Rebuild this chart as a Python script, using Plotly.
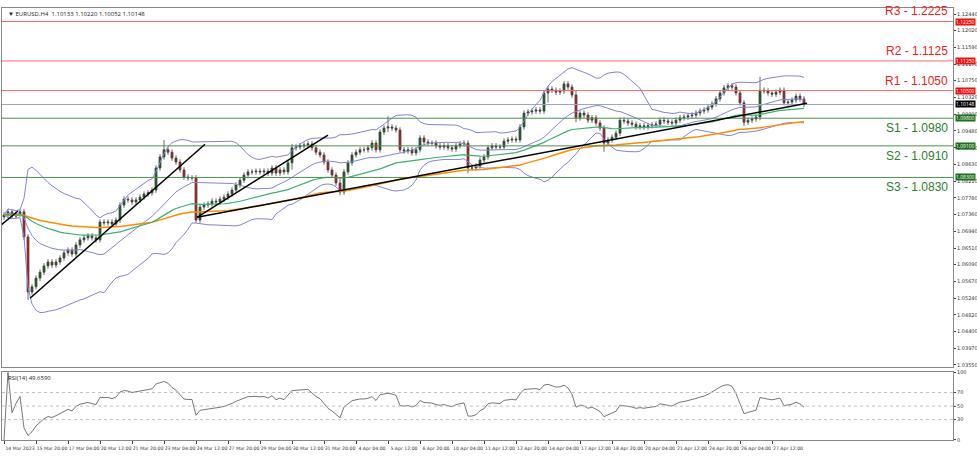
import numpy as np
import pandas as pd
import plotly.graph_objects as go

closes = [1.0735,1.0743,1.0732,1.0737,1.0743,1.0679,1.0540,1.0553,1.0575,1.0590,
1.0606,1.0616,1.0608,1.0616,1.0626,1.0639,1.0646,1.0636,1.0659,1.0672,
1.0677,1.0682,1.0677,1.0672,1.0717,1.0715,1.0717,1.0712,1.0722,1.0760,
1.0775,1.0773,1.0768,1.0773,1.0780,1.0788,1.0791,1.0798,1.0854,1.0882,
1.0900,1.0894,1.0879,1.0869,1.0849,1.0831,1.0829,1.0829,1.0722,1.0755,
1.0760,1.0763,1.0770,1.0768,1.0775,1.0780,1.0788,1.0798,1.0811,1.0823,
1.0836,1.0844,1.0844,1.0846,1.0844,1.0846,1.0841,1.0854,1.0841,1.0849,
1.0844,1.0867,1.0905,1.0907,1.0910,1.0912,1.0915,1.0905,1.0894,1.0887,
1.0869,1.0849,1.0836,1.0816,1.0793,1.0844,1.0867,1.0887,1.0894,1.0900,
1.0900,1.0905,1.0917,1.0900,1.0945,1.0955,1.0958,1.0955,1.0950,1.0900,
1.0897,1.0900,1.0892,1.0900,1.0930,1.0920,1.0917,1.0917,1.0910,1.0907,
1.0910,1.0905,1.0902,1.0910,1.0915,1.0917,1.0854,1.0854,1.0859,1.0874,
1.0882,1.0905,1.0910,1.0907,1.0907,1.0922,1.0925,1.0927,1.0925,1.0958,
1.0993,1.0996,1.0998,1.1001,1.0998,1.1044,1.1054,1.1051,1.1046,1.1049,
1.1067,1.1059,1.1039,1.0981,1.0993,1.0988,1.0975,1.0981,1.0968,1.0955,
1.0917,1.0925,1.0932,1.0942,1.0975,1.0973,1.0968,1.0965,1.0958,1.0961,
1.0958,1.0961,1.0963,1.0965,1.0975,1.0973,1.0970,1.0968,1.0975,1.0981,
1.0983,1.0986,1.0988,1.0993,1.0998,1.1001,1.1008,1.1016,1.1029,1.1044,
1.1057,1.1062,1.1059,1.1044,1.1019,1.0970,1.0975,1.0978,1.0983,1.1051,
1.1049,1.1044,1.1041,1.1046,1.1051,1.1019,1.1021,1.1026,1.1036,1.1029,
1.10148]
first_open = 1.0730
wick_extra = {6: (1.0560, 1.0520), 40: (1.0925, 1.0880), 72: (1.0915, 1.0850),
              84: (1.0830, 1.0785), 96: (1.0985, 1.0945), 116: (1.0920, 1.0840),
              136: (1.1062, 1.1020), 143: (1.1050, 1.0970), 150: (1.0950, 1.0895),
              185: (1.1025, 1.0960), 189: (1.1085, 1.0975)}

tick_labels = ["14 Mar 2023","15 Mar 20:00","17 Mar 04:00","20 Mar 12:00","21 Mar 20:00",
"23 Mar 04:00","24 Mar 12:00","27 Mar 20:00","29 Mar 04:00","30 Mar 12:00","31 Mar 20:00",
"4 Apr 04:00","5 Apr 12:00","6 Apr 20:00","10 Apr 04:00","11 Apr 12:00","12 Apr 20:00",
"14 Apr 04:00","17 Apr 12:00","18 Apr 20:00","20 Apr 04:00","21 Apr 12:00","24 Apr 20:00",
"26 Apr 04:00","27 Apr 12:00"]
price_ticks = [1.12440,1.12020,1.11590,1.11170,1.10750,1.10320,1.09900,1.09480,1.09050,
1.08630,1.08210,1.07780,1.07360,1.06940,1.06510,1.06090,1.05670,1.05240,1.04820,
1.04400,1.03970,1.03550]
levels = [("R3 - 1.2225", 1.1225, "1.12250"), ("R2 - 1.1125", 1.1125, "1.11250"),
          ("R1 - 1.1050", 1.1050, "1.10500"), ("S1 - 1.0980", 1.0980, "1.09800"),
          ("S2 - 1.0910", 1.0910, "1.09100"), ("S3 - 1.0830", 1.0830, "1.08300")]
last_price = 1.10148
trendlines = [((-1.0, 1.0707), (3.5, 1.0745)),
              ((6.5, 1.0524), (50.25, 1.0914)),
              ((48.25, 1.0729), (81.0, 1.0937)),
              ((48.25, 1.0729), (200.75, 1.1018))]

n = len(closes)
x = np.arange(n)
c = np.array(closes)
o = np.concatenate([[first_open], c[:-1]])
h = np.maximum(o, c) + 0.0007
l = np.minimum(o, c) - 0.0007
for k, (hh, ll) in wick_extra.items():
    h[k] = max(h[k], hh); l[k] = min(l[k], ll)

s = pd.Series(c)
mid = s.rolling(20, min_periods=1).mean()
sd = s.rolling(20, min_periods=2).std().fillna(0)
ema50 = s.ewm(span=50, adjust=False).mean()
ema100 = s.ewm(span=100, adjust=False).mean()
d = s.diff().fillna(0)
up = d.clip(lower=0).ewm(alpha=1/14, adjust=False).mean()
dn = (-d.clip(upper=0)).ewm(alpha=1/14, adjust=False).mean()
rsi = 100 - 100 / (1 + up / dn.replace(0, 1e-9))

fig = go.Figure()
band = dict(color="#8484d6", width=1)
for yy in [mid + 2 * sd, mid - 2 * sd, mid]:
    fig.add_trace(go.Scatter(x=x, y=yy, mode="lines", line=band, yaxis="y", hoverinfo="skip"))
fig.add_trace(go.Scatter(x=x, y=ema100, mode="lines", line=dict(color="#ff8c00", width=1.5)))
fig.add_trace(go.Scatter(x=x, y=ema50, mode="lines", line=dict(color="#3cb371", width=1.2)))
fig.add_trace(go.Candlestick(x=x, open=o, high=h, low=l, close=c, whiskerwidth=0,
    increasing=dict(fillcolor="#0a6a0a", line=dict(color="#444444", width=0.8)),
    decreasing=dict(fillcolor="#d81010", line=dict(color="#444444", width=0.8))))
fig.add_trace(go.Scatter(x=x, y=rsi, mode="lines", line=dict(color="#555555", width=0.8),
                         xaxis="x2", yaxis="y2"))

shapes = []
for name, val, tag in levels:
    col = "#ff6666" if name.startswith("R") else "#4f8f4f"
    shapes.append(dict(type="line", xref="paper", x0=0, x1=1, yref="y", y0=val, y1=val,
                       line=dict(color=col, width=1)))
shapes.append(dict(type="line", xref="paper", x0=0, x1=1, yref="y", y0=last_price, y1=last_price,
                   line=dict(color="#9aa4c8", width=1)))
for (x0, y0), (x1, y1) in trendlines:
    shapes.append(dict(type="line", xref="x", yref="y", x0=x0, y0=y0, x1=x1, y1=y1,
                       line=dict(color="black", width=1.5)))
for v in [30, 50, 70]:
    shapes.append(dict(type="line", xref="x2", x0=-0.5, x1=237.25, yref="y2", y0=v, y1=v,
                       line=dict(color="#c0c0c0", width=1, dash="dot")))

ann = []
for name, val, tag in levels:
    isr = name.startswith("R")
    col = "#ee2222" if isr else "#2e7d2e"
    ann.append(dict(text=name, xref="paper", x=0.997, xanchor="right", yref="y", y=val,
                    yanchor="bottom" if isr else "top", yshift=1 if isr else -1, showarrow=False,
                    font=dict(size=12, color=col, family="Liberation Sans")))
    ann.append(dict(text=tag, xref="paper", x=1.002, xanchor="left", yref="y", y=val,
                    showarrow=False, bgcolor="#ee1111" if isr else "#1f6f1f",
                    font=dict(size=5, color="white"), borderpad=0))
ann.append(dict(text="1.10148", xref="paper", x=1.002, xanchor="left", yref="y", y=last_price,
                showarrow=False, bgcolor="black", font=dict(size=5, color="white"), borderpad=0))
ann.append(dict(text="▼ EURUSD,H4  1.10133 1.10220 1.10052 1.10148", xref="paper", x=0.004,
                xanchor="left", y=1.0, yanchor="top", yref="paper", showarrow=False,
                font=dict(size=6, color="#222222")))
ann.append(dict(text="RSI(14) 49.6590", xref="paper", x=0.004, xanchor="left", yref="paper",
                y=0.157, yanchor="top", showarrow=False, font=dict(size=6, color="#222222")))

axis_font = dict(size=5, color="#333333", family="DejaVu Sans")
fig.update_layout(
    width=977, height=456, margin=dict(l=2, r=24, t=8, b=16, autoexpand=False),
    paper_bgcolor="white", plot_bgcolor="white", showlegend=False,
    shapes=shapes, annotations=ann,
    xaxis=dict(range=[-0.5, 237.25], domain=[0, 1], anchor="y", showticklabels=False,
               showgrid=False, zeroline=False, rangeslider=dict(visible=False), automargin=False,
               showline=True, linecolor="#888888", mirror=True, ticks=""),
    yaxis=dict(domain=[0.169, 1], range=[1.03499, 1.12592], side="right", automargin=False,
               tickvals=price_ticks, ticktext=[f"{v:.5f}" for v in price_ticks],
               tickfont=axis_font, ticks="outside", ticklen=2, showgrid=False, zeroline=False,
               showline=True, linecolor="#888888", mirror=True),
    xaxis2=dict(range=[-0.5, 237.25], domain=[0, 1], anchor="y2", tickvals=list(range(0, 200, 8)),
                ticktext=tick_labels, tickfont=dict(size=4.6, color="#333333", family="DejaVu Sans"),
                ticks="outside", ticklen=3, automargin=False,
                tickangle=0, ticklabelshift=16, showgrid=False, zeroline=False,
                showline=True, linecolor="#888888", mirror=True),
    yaxis2=dict(domain=[0, 0.157], range=[0, 100], side="right", tickvals=[0, 30, 50, 70, 100],
                tickfont=axis_font, ticks="outside", ticklen=2, showgrid=False, zeroline=False,
                automargin=False, showline=True, linecolor="#888888", mirror=True),
)
fig.write_html("out.html", config={"displayModeBar": False},
               post_script="document.body.style.margin='0';document.body.style.overflow='hidden';")
